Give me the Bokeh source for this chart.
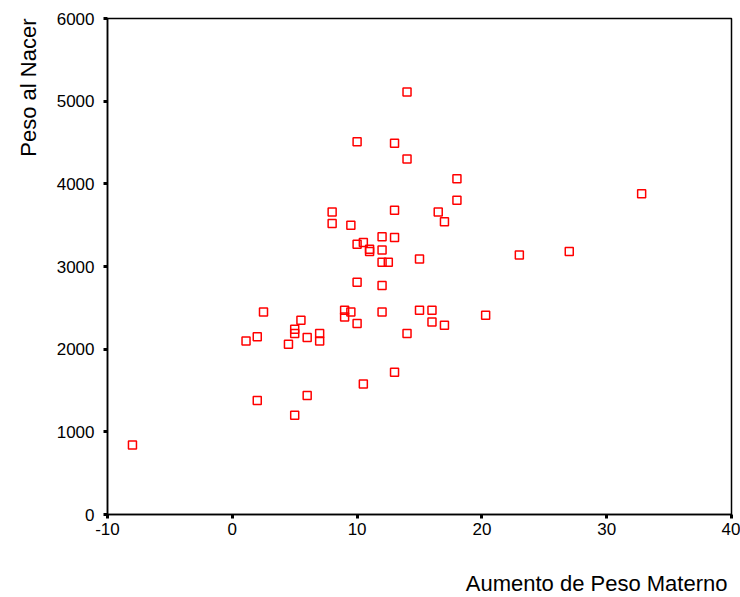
from bokeh.plotting import figure
from bokeh.layouts import column
from bokeh.models import Range1d, FixedTicker, Title, Label
from bokeh.embed import file_html
from bokeh.resources import INLINE

# Data
aumento_peso = [-8.0, 1.1, 2.0, 2.5, 2.0, 4.5, 5.0, 5.0, 5.0, 5.5, 6.0, 6.0, 7.0, 7.0,
                8.0, 8.0, 9.0, 9.0, 9.5, 9.5, 10.0, 10.0, 10.0, 10.0, 10.5, 10.5,
                11.0, 11.0, 12.0, 12.0, 12.0, 12.0, 12.0, 12.5, 13.0, 13.0, 13.0, 13.0,
                14.0, 14.0, 14.0, 15.0, 15.0, 16.0, 16.0, 16.5, 17.0, 17.0, 18.0, 18.0,
                20.3, 23.0, 27.0, 32.8]
peso_nacer = [840, 2100, 2150, 2450, 1380, 2060, 2240, 2190, 1200, 2350, 2140, 1440, 2190, 2100,
              3660, 3520, 2470, 2390, 3500, 2450, 4510, 3270, 2810, 2310, 3290, 1580,
              3210, 3180, 3360, 3200, 3050, 2770, 2450, 3050, 4490, 3680, 3350, 1720,
              5110, 4300, 2190, 3090, 2470, 2470, 2330, 3660, 3540, 2290, 4060, 3800,
              2410, 3140, 3180, 3880]
x_ticks = [-10, 0, 10, 20, 30, 40]
x_tick_labels = ["-10", "0", "10", "20", "30", "40"]
y_ticks = [0, 1000, 2000, 3000, 4000, 5000, 6000]
x_title = "Aumento de Peso Materno"
y_title = "Peso al Nacer"

FONT = "Liberation Sans"

p = figure(width=740, height=560, output_backend="svg", toolbar_location=None,
           x_range=Range1d(-10, 40), y_range=Range1d(0, 6000),
           min_border_left=107, min_border_right=9, min_border_top=18, min_border_bottom=46)

p.scatter(aumento_peso, peso_nacer, marker="square", size=8,
          fill_color=None, line_color="#ff0000", line_width=1.5)

p.xgrid.visible = False
p.ygrid.visible = False
p.background_fill_color = "white"
p.border_fill_color = "white"
p.outline_line_color = "black"
p.outline_line_width = 1.5

for ax, ticks in ((p.xaxis[0], x_ticks), (p.yaxis[0], y_ticks)):
    ax.ticker = FixedTicker(ticks=ticks)
    ax.axis_line_color = "black"
    ax.axis_line_width = 1.5
    ax.major_tick_line_color = "black"
    ax.major_tick_line_width = 3
    ax.major_tick_in = 0
    ax.major_tick_out = 4
    ax.minor_tick_line_color = None
    ax.major_label_text_font = FONT
    ax.major_label_text_font_size = "17px"
    ax.major_label_text_color = "black"

p.xaxis[0].major_label_overrides = {t: s for t, s in zip(x_ticks, x_tick_labels)}
p.xaxis[0].major_label_standoff = 4
p.yaxis[0].major_label_standoff = 9

yt = Title(text=y_title, align="right", text_font=FONT,
           text_font_size="22px", text_font_style="normal", text_color="black", standoff=25)
p.add_layout(yt, "left")

# strip below the chart carrying the x axis title (right-aligned like the reference)
q = figure(width=740, height=37, output_backend="svg", toolbar_location=None,
           x_axis_type=None, y_axis_type=None, x_range=Range1d(0, 1), y_range=Range1d(0, 1),
           min_border_left=0, min_border_right=0, min_border_top=0, min_border_bottom=0)
q.outline_line_color = None
q.xgrid.visible = False
q.ygrid.visible = False
q.background_fill_color = "white"
q.border_fill_color = "white"
q.add_layout(Label(x=620, y=14, x_units="screen", y_units="screen", text=x_title,
                   text_align="right", text_baseline="alphabetic", text_font=FONT,
                   text_font_size="22px", text_color="black"))

layout = column(p, q, spacing=0)
open("out.html", "w").write(file_html(layout, INLINE))
